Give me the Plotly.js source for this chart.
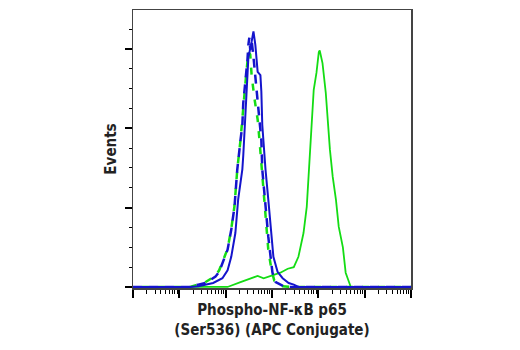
<!DOCTYPE html>
<html>
<head>
<meta charset="utf-8">
<script src="https://cdn.plot.ly/plotly-3.0.1.min.js"></script>
<style>html,body{margin:0;padding:0;background:#fff;}#chart{width:520px;height:350px;}</style>
</head>
<body>
<div id="chart"></div>
<script>
// Fluorescence intensity (channel values) and event counts
var isoX = [1, 17, 25.7, 36.3, 53.7, 85.1, 110, 132, 162, 186, 229, 240, 282, 309, 363, 398, 437, 490, 562, 589, 617, 661, 724, 832, 933, 1072, 1318, 1698, 2291, 2951, 3715, 1e6];
var isoY = [0, 0, 1, 3, 5, 11, 21, 38, 68, 110, 148, 166, 246, 289, 309, 322, 305, 271, 267, 246, 204, 173, 148, 110, 76, 38, 19, 11, 5, 3, 0, 0];

var ctrlBlueX = [1, 17, 25.7, 36.3, 60.3, 72.4, 110, 132, 155, 178, 209, 229, 240, 269, 295, 309, 324, 339, 363, 398, 437, 490, 537, 589, 617, 661, 724, 832, 933, 1023, 1202, 1778, 2512, 1e6];
var ctrlBlueY = [0, 0, 3, 5, 13, 19, 47, 72, 101, 148, 185, 204, 232, 259, 286, 305, 314, 299, 311, 290, 264, 236, 213, 185, 148, 129, 97, 63, 38, 18, 6, 1, 0, 0];

var ctrlGreenX = [1, 17, 25.7, 36.3, 60.3, 72.4, 110, 132, 155, 178, 209, 240, 269, 295, 309, 339, 363, 417, 490, 537, 589, 661, 759, 832, 977, 1122, 1698, 2512, 1e6];
var ctrlGreenY = [0, 0, 3, 6, 14, 21, 48, 73, 102, 148, 185, 232, 259, 284, 296, 293, 267, 238, 211, 185, 154, 116, 78, 47, 21, 8, 1, 0, 0];

var treatX = [1, 17, 110, 209, 339, 490, 661, 832, 1072, 1514, 2188, 2951, 3715, 4786, 5623, 6166, 6761, 7586, 7943, 9120, 9772, 10233, 10715, 11220, 12303, 14454, 15849, 17783, 20417, 23988, 27542, 33884, 38905, 45709, 50119, 1e6];
var treatY = [0, 0, 0, 6, 10, 14, 11, 13, 15, 18, 23, 25, 38, 68, 101, 139, 173, 214, 248, 270, 286, 296, 298, 293, 282, 245, 211, 173, 139, 110, 76, 50, 18, 5, 0, 0];

var BLUE = '#1414cc';
var GREEN = '#14dc14';

var traces = [
  {x: treatX, y: treatY, mode: 'lines', line: {color: GREEN, width: 1.8}, hoverinfo: 'skip'},
  {x: ctrlGreenX, y: ctrlGreenY, mode: 'lines', line: {color: GREEN, width: 2.5, dash: '0px,9px,7px,0px'}, hoverinfo: 'skip'},
  {x: ctrlBlueX, y: ctrlBlueY, mode: 'lines', line: {color: BLUE, width: 2.5, dash: '9px,7px'}, hoverinfo: 'skip'},
  {x: isoX, y: isoY, mode: 'lines', line: {color: BLUE, width: 2}, hoverinfo: 'skip'}
];

var titleFont = {family: '"Liberation Sans Narrow", "Arial Narrow", "DejaVu Sans Condensed", sans-serif', size: 15, color: '#222'};

var layout = {
  width: 520, height: 350,
  margin: {l: 133, r: 109, t: 10, b: 62},
  paper_bgcolor: '#fff', plot_bgcolor: '#fff',
  showlegend: false,
  xaxis: {
    type: 'log', range: [0, 6], dtick: 1,
    showgrid: false, zeroline: false,
    showline: true, linecolor: '#444', linewidth: 1.5, mirror: true,
    ticks: 'outside', ticklen: 8, tickwidth: 2, tickcolor: '#000',
    showticklabels: false,
    minor: {ticks: 'outside', ticklen: 4, tickwidth: 1, tickcolor: '#000', dtick: 'D1', showgrid: false},
    title: {text: '<b>Phospho-NF-κB p65<br>(Ser536) (APC Conjugate)</b>', font: titleFont, standoff: 8}
  },
  yaxis: {
    range: [-1.3, 349], dtick: 100, tick0: 0,
    showgrid: false, zeroline: false,
    showline: true, linecolor: '#444', linewidth: 1.5, mirror: true,
    ticks: 'outside', ticklen: 7, tickwidth: 2, tickcolor: '#000',
    showticklabels: false,
    minor: {ticks: 'outside', ticklen: 3, tickwidth: 1, tickcolor: '#000', dtick: 25, showgrid: false},
    title: {text: '<b>Events</b>', font: titleFont, standoff: 4}
  }
};

Plotly.newPlot('chart', traces, layout, {displayModeBar: false, staticPlot: true});
</script>
</body>
</html>
